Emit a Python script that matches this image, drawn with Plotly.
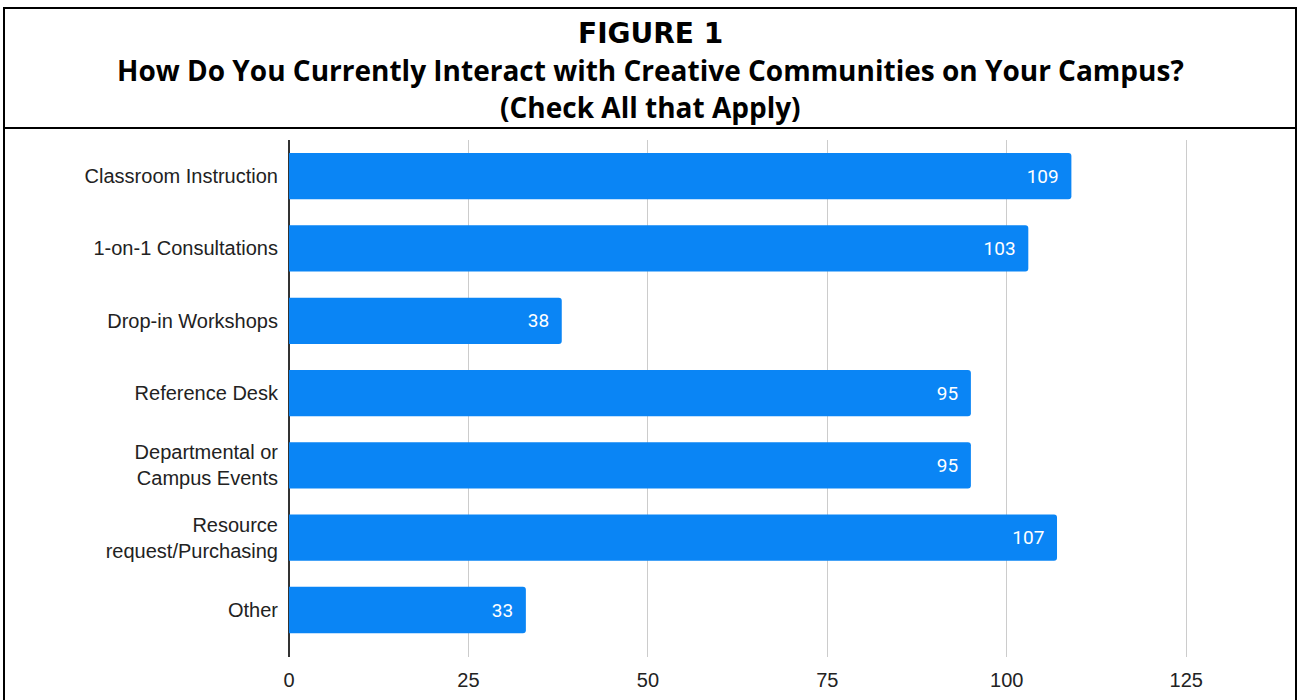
import plotly.graph_objects as go

categories = ["Classroom Instruction", "1-on-1 Consultations", "Drop-in Workshops",
              "Reference Desk", "Departmental or<br>Campus Events",
              "Resource<br>request/Purchasing", "Other"]
values = [109, 103, 38, 95, 95, 107, 33]
tick_vals = [0, 25, 50, 75, 100, 125]

W, H = 1299, 700
BLUE = "#0A85F5"

fig = go.Figure(go.Bar(
    x=values, y=categories, orientation="h",
    marker=dict(color=BLUE, line=dict(width=0)),
    width=0.64,
    text=[f"{v}\u2002" for v in values],
    textposition="inside", insidetextanchor="end",
    textfont=dict(color="white", size=19, family="Roboto"),
    cliponaxis=False,
))

px0, px1 = 289, 1258
py_top, py_bot = 140, 657
tickfont = dict(family="Liberation Sans, Arial", size=20, color="#222222")
fig.update_layout(
    width=W, height=H,
    margin=dict(l=0, r=0, t=0, b=0),
    paper_bgcolor="white", plot_bgcolor="white",
    showlegend=False,
    barcornerradius=3,
    xaxis=dict(domain=[px0 / W, px1 / W], range=[0, 135],
               tickvals=tick_vals, showgrid=True, gridcolor="#CCCCCC", gridwidth=1,
               zeroline=True, zerolinecolor="#333333", zerolinewidth=1.5,
               ticks="outside", ticklen=5, tickcolor="rgba(0,0,0,0)",
               tickfont=tickfont, automargin=False, fixedrange=True),
    yaxis=dict(domain=[1 - py_bot / H, 1 - py_top / H],
               categoryorder="array", categoryarray=categories,
               range=[6.65, -0.5], showgrid=False, zeroline=False,
               ticks="outside", ticklen=6, tickcolor="rgba(0,0,0,0)",
               tickfont=tickfont, automargin=False, fixedrange=True),
)

# frame
fig.add_shape(type="rect", xref="paper", yref="paper",
              x0=4 / W, x1=1296 / W, y0=-0.01, y1=1 - 8 / H,
              line=dict(color="black", width=2), fillcolor="rgba(0,0,0,0)", layer="above")
fig.add_shape(type="line", xref="paper", yref="paper",
              x0=4 / W, x1=1296 / W, y0=1 - 128 / H, y1=1 - 128 / H,
              line=dict(color="black", width=2))

titles = [("FIGURE 1", 33, "DejaVu Sans", 28),
          ("How Do You Currently Interact with Creative Communities on Your Campus?", 70, "Open Sans", 28),
          ("(Check All that Apply)", 107, "Open Sans", 28)]
for txt, yc, fam, sz in titles:
    fig.add_annotation(text=f"<b>{txt}</b>", xref="paper", yref="paper",
                       x=650 / W, y=1 - yc / H, xanchor="center", yanchor="middle",
                       showarrow=False,
                       font=dict(family=fam, size=sz, color="black"))

fig.write_html("out.html")
